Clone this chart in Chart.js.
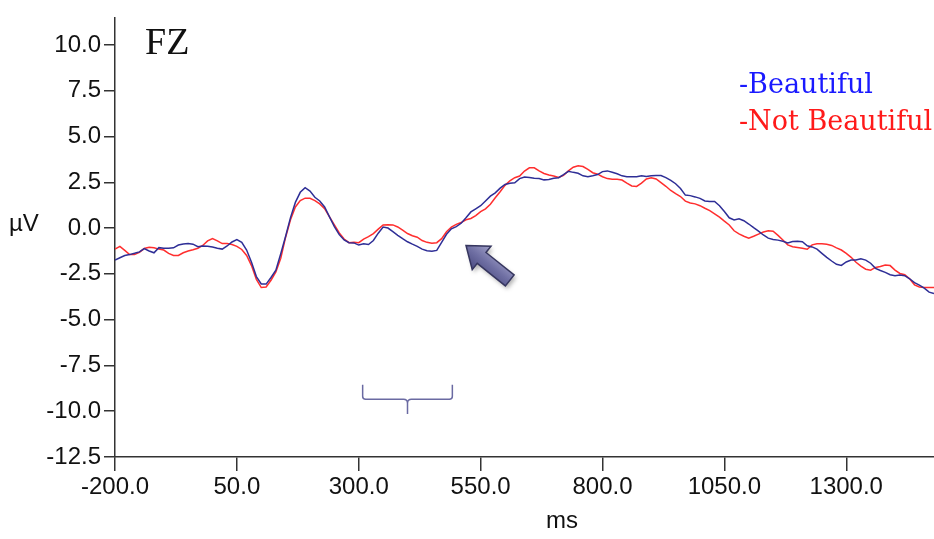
<!DOCTYPE html>
<html>
<head>
<meta charset="utf-8">
<script src="https://cdn.jsdelivr.net/npm/chart.js@4.4.1/dist/chart.umd.min.js"></script>
<style>
  body { margin: 0; background: #fff; }
  #wrap { width: 934px; height: 539px; }
</style>
</head>
<body>
<div id="wrap"><canvas id="erp-chart" width="934" height="539"></canvas></div>
<script>
// time axis (ms), one sample every 10 ms
const timesMs = [
  -200, -190, -180, -170, -160, -150, -140, -130, -120, -110,
  -100, -90, -80, -70, -60, -50, -40, -30, -20, -10,
  0, 10, 20, 30, 40, 50, 60, 70, 80, 90,
  100, 110, 120, 130, 140, 150, 160, 170, 180, 190,
  200, 210, 220, 230, 240, 250, 260, 270, 280, 290,
  300, 310, 320, 330, 340, 350, 360, 370, 380, 390,
  400, 410, 420, 430, 440, 450, 460, 470, 480, 490,
  500, 510, 520, 530, 540, 550, 560, 570, 580, 590,
  600, 610, 620, 630, 640, 650, 660, 670, 680, 690,
  700, 710, 720, 730, 740, 750, 760, 770, 780, 790,
  800, 810, 820, 830, 840, 850, 860, 870, 880, 890,
  900, 910, 920, 930, 940, 950, 960, 970, 980, 990,
  1000, 1010, 1020, 1030, 1040, 1050, 1060, 1070, 1080, 1090,
  1100, 1110, 1120, 1130, 1140, 1150, 1160, 1170, 1180, 1190,
  1200, 1210, 1220, 1230, 1240, 1250, 1260, 1270, 1280, 1290,
  1300, 1310, 1320, 1330, 1340, 1350, 1360, 1370, 1380, 1390,
  1400, 1410, 1420, 1430, 1440, 1450, 1460, 1470, 1480
];

// Beautiful (µV)
const beautiful = [
  -1.75, -1.62, -1.5, -1.45, -1.38, -1.3, -1.12, -1.25, -1.35, -1.07,
  -1.1, -1.1, -1.08, -0.93, -0.87, -0.85, -0.88, -1.02, -0.98, -1.0,
  -1.04, -1.1, -1.15, -0.98, -0.76, -0.63, -0.78, -1.2, -1.87, -2.65,
  -3.05, -3.06, -2.7, -2.3, -1.4, -0.45, 0.57, 1.4, 1.95, 2.2,
  2.02, 1.68, 1.48, 1.15, 0.61, 0.08, -0.36, -0.65, -0.8, -0.81,
  -0.93, -0.86, -0.9, -0.68, -0.28, 0.05, 0.0, -0.2, -0.4, -0.58,
  -0.75, -0.88, -1.0, -1.15, -1.24, -1.27, -1.22, -0.78, -0.34, -0.04,
  0.08, 0.26, 0.56, 0.88, 1.05, 1.22, 1.48, 1.74, 1.92, 2.18,
  2.38, 2.44, 2.47, 2.7, 2.79, 2.76, 2.72, 2.7, 2.63, 2.65,
  2.72, 2.75, 2.92, 3.1, 3.04, 2.99, 2.85, 2.8, 2.85, 2.92,
  3.08, 3.12, 3.05, 2.96, 2.85, 2.8, 2.8, 2.8, 2.86, 2.82,
  2.85, 2.87, 2.87, 2.75, 2.6, 2.42, 2.16, 1.8, 1.77, 1.7,
  1.62, 1.48, 1.45, 1.45, 1.22, 0.9, 0.56, 0.44, 0.5, 0.4,
  0.22, 0.02, -0.17, -0.38, -0.55, -0.62, -0.66, -0.72, -0.81, -0.74,
  -0.72, -0.75, -0.97, -1.03, -1.15, -1.38, -1.6, -1.8, -1.98, -2.04,
  -1.85, -1.75, -1.75, -1.68, -1.75, -1.92, -2.2, -2.32, -2.42, -2.55,
  -2.6, -2.56, -2.6, -2.77, -2.98, -3.12, -3.28, -3.5, -3.57
];

// Not Beautiful (µV)
const notBeautiful = [
  -1.15, -1.0, -1.22, -1.45, -1.45, -1.33, -1.12, -1.05, -1.08, -1.15,
  -1.2, -1.38, -1.5, -1.5, -1.35, -1.25, -1.18, -1.1, -0.95, -0.7,
  -0.57, -0.7, -0.85, -0.85, -0.9, -1.0, -1.17, -1.5, -2.05, -2.8,
  -3.25, -3.22, -2.85, -2.4, -1.65, -0.5, 0.45, 1.15, 1.5, 1.63,
  1.62, 1.5, 1.32, 1.06, 0.61, 0.17, -0.27, -0.6, -0.8, -0.77,
  -0.8, -0.6, -0.47, -0.3, -0.06, 0.17, 0.18, 0.17, 0.06, -0.12,
  -0.3, -0.42, -0.5, -0.68, -0.78, -0.83, -0.8, -0.58, -0.2, 0.05,
  0.2, 0.3, 0.45, 0.52, 0.68, 0.9, 1.05, 1.3, 1.65, 1.98,
  2.33, 2.58, 2.75, 2.84, 3.11, 3.29, 3.29, 3.12, 2.98, 2.9,
  2.84, 2.76, 2.87, 3.12, 3.32, 3.4, 3.36, 3.2, 3.02, 2.94,
  2.8, 2.7, 2.66, 2.66, 2.62, 2.45, 2.3, 2.27, 2.45, 2.68,
  2.75, 2.68, 2.48, 2.28, 2.05, 1.88, 1.72, 1.47, 1.37, 1.32,
  1.22, 1.08, 0.95, 0.78, 0.6, 0.38, 0.17, -0.15, -0.32, -0.45,
  -0.56, -0.45, -0.33, -0.22, -0.15, -0.17, -0.4, -0.65, -0.92, -1.02,
  -1.06, -1.1, -1.16, -0.92, -0.86, -0.86, -0.88, -0.95, -1.08, -1.2,
  -1.38, -1.6, -1.87, -2.08, -2.25, -2.3, -2.15, -2.1, -2.02, -2.05,
  -2.3, -2.48, -2.55, -2.77, -3.1, -3.22, -3.25, -3.25, -3.25
];

const seriesNames = ["Beautiful", "Not Beautiful"];
const xTickValues = [-200, 50, 300, 550, 800, 1050, 1300];
const yTickValues = [-12.5, -10, -7.5, -5, -2.5, 0, 2.5, 5, 7.5, 10];

// pick a narrow sans if it exists, the original labels are condensed
function fontExists(name) {
  let c = document.createElement("canvas").getContext("2d");
  c.font = "40px monospace";
  let a = c.measureText("800.0 ms").width;
  c.font = "40px '" + name + "', monospace";
  return c.measureText("800.0 ms").width !== a;
}
const narrow = fontExists("Liberation Sans Narrow");
const axisFont = narrow
  ? { family: "'Liberation Sans Narrow', sans-serif", size: 28 }
  : { family: "'Liberation Sans', sans-serif", size: 24 };

const toPoints = vals => vals.map((v, i) => ({ x: timesMs[i], y: v }));

let erpData = {
  datasets: [{
    label: seriesNames[0],
    data: toPoints(beautiful),
    borderColor: "#2e2e96",
    borderWidth: 1.5,
    pointRadius: 0,
    fill: false
  }, {
    label: seriesNames[1],
    data: toPoints(notBeautiful),
    borderColor: "#ff2e2e",
    borderWidth: 1.5,
    pointRadius: 0,
    fill: false
  }]
};

// extra drawing: FZ label, legend, axis names, arrow and brace
const extras = {
  id: "extras",
  afterDatasetsDraw(chart) {
    const ctx = chart.ctx;
    const x = chart.scales.x, y = chart.scales.y;
    ctx.save();

    ctx.fillStyle = "#111";
    ctx.font = "38px 'Liberation Serif', serif";
    ctx.textBaseline = "alphabetic";
    ctx.textAlign = "left";
    ctx.fillText("FZ", 145, 54);

    ctx.font = "27px 'DejaVu Serif', serif";
    ctx.fillStyle = "#1a1aff";
    ctx.fillText("-" + chart.data.datasets[0].label, 739, 93);
    ctx.fillStyle = "#ff1a1a";
    ctx.fillText("-" + chart.data.datasets[1].label, 739, 130);

    ctx.fillStyle = "#111";
    ctx.font = axisFont.size + "px " + axisFont.family;
    ctx.textBaseline = "middle";
    ctx.fillText("\u00b5V", 9, 224);
    ctx.textAlign = "center";
    ctx.fillText("ms", 562, 521);

    // brace under the 300-500 ms window
    let xl = x.getPixelForValue(308), xr = x.getPixelForValue(492), xm = x.getPixelForValue(400);
    let yt = y.getPixelForValue(-8.55), yl = y.getPixelForValue(-9.35), yb = y.getPixelForValue(-10.15);
    ctx.strokeStyle = "#6a6aa2";
    ctx.lineWidth = 1.5;
    ctx.beginPath();
    ctx.moveTo(xl, yt);
    ctx.lineTo(xl, yl - 3);
    ctx.quadraticCurveTo(xl, yl, xl + 3, yl);
    ctx.lineTo(xm - 4, yl);
    ctx.quadraticCurveTo(xm, yl, xm, yl + 4);
    ctx.lineTo(xm, yb);
    ctx.moveTo(xm, yl + 4);
    ctx.quadraticCurveTo(xm, yl, xm + 4, yl);
    ctx.lineTo(xr - 3, yl);
    ctx.quadraticCurveTo(xr, yl, xr, yl - 3);
    ctx.lineTo(xr, yt);
    ctx.stroke();

    // block arrow pointing up-left at the divergence
    let tipX = x.getPixelForValue(520), tipY = y.getPixelForValue(-0.95);
    ctx.translate(tipX, tipY);
    ctx.rotate(Math.atan2(36, 45));
    ctx.beginPath();
    ctx.moveTo(0, 0);
    ctx.lineTo(20, -15);
    ctx.lineTo(20, -7);
    ctx.lineTo(56, -7);
    ctx.lineTo(56, 7);
    ctx.lineTo(20, 7);
    ctx.lineTo(20, 15);
    ctx.closePath();
    let g = ctx.createLinearGradient(0, -15, 0, 15);
    g.addColorStop(0, "#a0a0c8");
    g.addColorStop(0.5, "#7070a4");
    g.addColorStop(1, "#4c4c82");
    ctx.shadowColor = "rgba(0,0,0,0.3)";
    ctx.shadowBlur = 4;
    ctx.shadowOffsetX = 2;
    ctx.shadowOffsetY = 3;
    ctx.fillStyle = g;
    ctx.fill();
    ctx.shadowColor = "transparent";
    ctx.strokeStyle = "#36365f";
    ctx.lineWidth = 1.5;
    ctx.stroke();

    ctx.restore();
  }
};

let erpOptions = {
  responsive: false,
  animation: false,
  devicePixelRatio: 1,
  layout: { padding: { top: 8, right: 0, left: 0, bottom: 0 } },
  scales: {
    x: {
      type: "linear",
      min: -200,
      max: 1480,
      afterBuildTicks: s => { s.ticks = xTickValues.map(v => ({ value: v })); },
      afterFit: s => { s.height = 82; },
      ticks: {
        autoSkip: false,
        maxRotation: 0,
        padding: 2,
        color: "#111",
        font: axisFont,
        callback: v => v.toFixed(1)
      },
      grid: { drawOnChartArea: false, tickLength: 14, color: "#333", lineWidth: 1.5 },
      border: { color: "#333", width: 1.5 }
    },
    y: {
      min: -12.5,
      max: 11.5,
      afterBuildTicks: s => { s.ticks = yTickValues.map(v => ({ value: v })); },
      afterFit: s => { s.width = 115; },
      ticks: {
        autoSkip: false,
        padding: 3,
        color: "#111",
        font: axisFont,
        callback: v => v.toFixed(1)
      },
      grid: { drawOnChartArea: false, tickLength: 11, color: "#333", lineWidth: 1.5 },
      border: { color: "#333", width: 1.5 }
    }
  },
  plugins: {
    legend: { display: false },
    tooltip: { enabled: false }
  }
};

let erpChart = new Chart(document.getElementById("erp-chart"), {
  type: "line",
  data: erpData,
  options: erpOptions,
  plugins: [extras]
});
</script>
</body>
</html>
